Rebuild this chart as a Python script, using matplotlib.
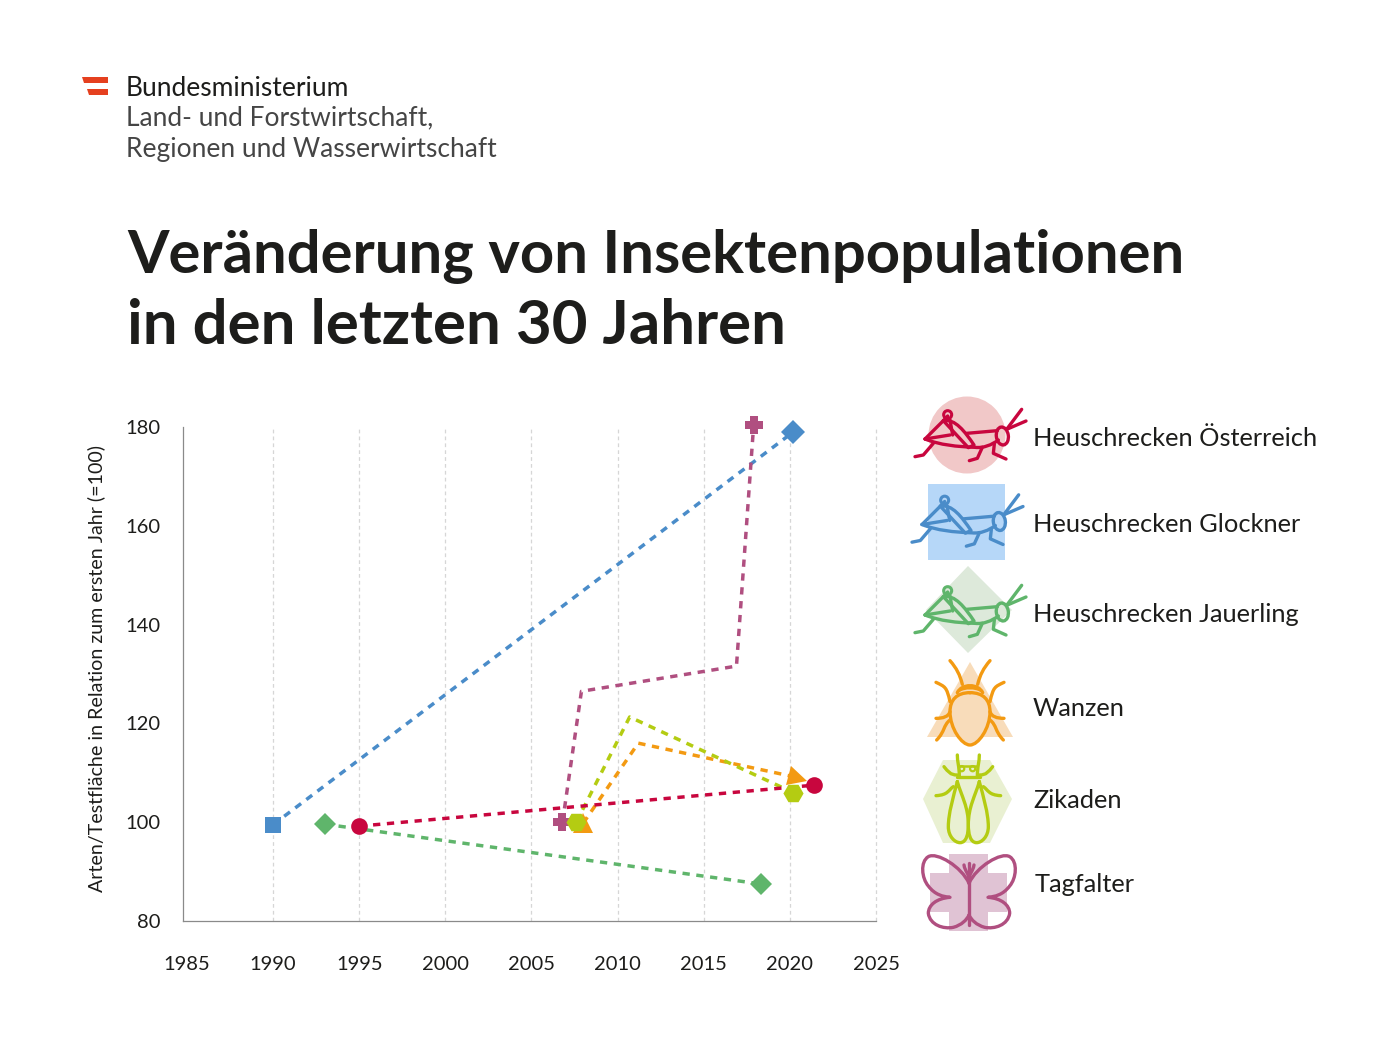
import matplotlib
matplotlib.use("Agg")
import matplotlib.pyplot as plt
from matplotlib.markers import MarkerStyle
from matplotlib.path import Path
from matplotlib.patches import PathPatch, Polygon, Circle, Rectangle, Ellipse
from matplotlib.transforms import Affine2D

plt.rcParams['font.family'] = ['Lato', 'DejaVu Sans']

# ---- data ----
blue_x = [1990.0, 2020.2]
blue_y = [99.5, 179.0]
green_x = [1993.0, 2018.3]
green_y = [99.6, 87.5]
purple_x = [2006.8, 2007.9, 2016.9, 2017.9]
purple_y = [100.0, 126.5, 131.6, 180.5]
orange_x = [2008.0, 2011.2, 2020.5]
orange_y = [99.8, 116.0, 109.0]
lime_x = [2007.6, 2010.7, 2020.2]
lime_y = [100.0, 121.3, 106.0]
red_x = [1995.0, 2021.4]
red_y = [99.2, 107.5]

x_ticks = [1985, 1990, 1995, 2000, 2005, 2010, 2015, 2020, 2025]
y_ticks = [80, 100, 120, 140, 160, 180]

legend_labels = ["Heuschrecken Österreich", "Heuschrecken Glockner", "Heuschrecken Jauerling",
                 "Wanzen", "Zikaden", "Tagfalter"]
title_lines = ["Veränderung von Insektenpopulationen", "in den letzten 30 Jahren"]
ylabel = "Arten/Testfläche in Relation zum ersten Jahr (=100)"

RED, BLUE, GREEN = "#C8063E", "#4A8CC9", "#5FB56B"
ORANGE, LIME, PURPLE = "#F39A12", "#B4CC12", "#B04F80"
TXT = "#1d1d1b"

W, H = 1400, 1050
fig = plt.figure(figsize=(14, 10.5), dpi=100, facecolor="white")
ax = fig.add_axes([183 / W, 1 - 921 / H, (876 - 183) / W, (921 - 427) / H])
ax.set_xlim(1984.77, 2025)
ax.set_ylim(80, 180)
for s in ("top", "right"):
    ax.spines[s].set_visible(False)
for s in ("left", "bottom"):
    ax.spines[s].set_color("#8a8a8a")
    ax.spines[s].set_linewidth(0.9)
ax.set_xticks(x_ticks)
ax.set_yticks(y_ticks)
ax.tick_params(length=0, labelsize=14.5, labelcolor=TXT)
ax.tick_params(axis="x", pad=25)
ax.tick_params(axis="y", pad=16)
ax.grid(axis="x", color="#d6d6d6", lw=0.9, ls=(0, (3, 2.5)))
ax.set_axisbelow(True)
gl = ax.get_xgridlines()
gl[0].set_visible(False)
gl[-1].set_clip_on(False)

def tri(deg):
    return MarkerStyle('^', transform=Affine2D().rotate_deg(deg))

a = 0.42
fat_plus = Path([(-a, -1), (a, -1), (a, -a), (1, -a), (1, a), (a, a), (a, 1), (-a, 1), (-a, a),
                 (-1, a), (-1, -a), (-a, -a), (-a, -1)], closed=True)

def series(x, y, c, m_start, m_end, size, z):
    ax.plot(x, y, color=c, lw=2.5, ls=(0, (2.1, 1.9)), dash_capstyle="butt",
            solid_joinstyle="miter", zorder=z, clip_on=False)
    ax.plot(x[0], y[0], ls="none", marker=m_start, color=c, ms=size, mew=0, zorder=z + 10, clip_on=False)
    ax.plot(x[-1], y[-1], ls="none", marker=m_end, color=c, ms=size, mew=0, zorder=z + 10, clip_on=False)

series(blue_x, blue_y, BLUE, 's', 'D', 12, 3)
series(green_x, green_y, GREEN, 'D', 'D', 11, 3.1)
series(purple_x, purple_y, PURPLE, fat_plus, fat_plus, 12.5, 3.2)
series(orange_x, orange_y, ORANGE, '^', tri(-105), 14, 3.3)
series(lime_x, lime_y, LIME, 'H', 'H', 14.5, 3.4)
series(red_x, red_y, RED, 'o', 'o', 12, 3.5)

# ---- overlay in pixel space: header, legend icons ----
ov = fig.add_axes([0, 0, 1, 1], zorder=-1)
ov.set_xlim(0, W)
ov.set_ylim(H, 0)
ov.axis("off")
ov2 = fig.add_axes([0, 0, 1, 1], zorder=5)
ov2.set_xlim(0, W)
ov2.set_ylim(H, 0)
ov2.axis("off")
ov2.patch.set_alpha(0)

# logo
ov2.add_patch(Polygon([(82, 77), (108, 77), (108, 82.5), (84, 82.5)], color="#E5401F", lw=0))
ov2.add_patch(Polygon([(86.5, 89), (108, 89), (108, 95), (88.5, 95)], color="#E5401F", lw=0))
ov2.text(125.5, 88, "Bundesministerium", fontsize=19, color=TXT, va="center", weight="normal")
ov2.text(125.5, 118, "Land- und Forstwirtschaft,", fontsize=19, color="#454545", va="center")
ov2.text(125.5, 149.5, "Regionen und Wasserwirtschaft", fontsize=19, color="#454545", va="center")

# title
ov2.text(127, 256, title_lines[0], fontsize=43, weight="bold", color=TXT, va="center")
ov2.text(127, 326, title_lines[1], fontsize=44.5, weight="bold", color=TXT, va="center")

# y label
ov2.text(96, 668, ylabel, rotation=90, fontsize=14.1, color=TXT, ha="center", va="center")

# legend labels
for lbl, xx, yy in zip(legend_labels, [1033, 1033, 1033, 1033, 1033, 1035], [438, 524, 615, 708, 800, 885]):
    ov2.text(xx, yy, lbl, fontsize=18.3, color=TXT, va="center")

# backgrounds
ov.add_patch(Circle((967, 435), 38.5, color="#F1C8C8", lw=0))
ov.add_patch(Rectangle((928, 484), 77, 76, color="#B6D7F8", lw=0))
ov.add_patch(Polygon([(968, 566), (1012, 610), (968, 653), (926, 610)], color="#DDE9DA", lw=0))
ov.add_patch(Polygon([(970, 662), (1013, 737), (927, 737)], color="#F8DCBA", lw=0))
ov.add_patch(Polygon([(943, 760), (990, 760), (1012, 799), (990, 843), (943, 843), (923, 799)], color="#E9F0D2", lw=0))
ov.add_patch(Polygon([(949, 854), (988, 854), (988, 873), (1007, 873), (1007, 912), (988, 912), (988, 931),
                      (949, 931), (949, 912), (930, 912), (930, 873), (949, 873)], color="#E0C3D4", lw=0))

def Z(p, ox, oy):
    return (ox + p[0] / 3, oy + p[1] / 3)

def stroke(pts, c, ox, oy, lw=2.4, closed=False, fill="none"):
    """pts: first a start point, then points (line) or triples (cubic) in zoom coordinates."""
    verts, codes = [Z(pts[0], ox, oy)], [Path.MOVETO]
    for p in pts[1:]:
        if len(p) == 3:
            for q in p:
                verts.append(Z(q, ox, oy))
                codes.append(Path.CURVE4)
        else:
            verts.append(Z(p, ox, oy))
            codes.append(Path.LINETO)
    ov2.add_patch(PathPatch(Path(verts, codes), fc=fill, ec=c, lw=lw, capstyle="round", joinstyle="round"))

def hopper(c, ox, oy):
    stroke([(320, 118), (365, 58)], c, ox, oy)
    stroke([(320, 118), (378, 93)], c, ox, oy)
    ov2.add_patch(Ellipse(Z((307, 138), ox, oy), 12, 18, angle=-8, fc="none", ec=c, lw=2.4))
    stroke([(292, 122), (200, 130)], c, ox, oy)
    stroke([(75, 147), ((120, 165), (170, 170), (225, 172)), ((250, 175), (275, 165), (295, 150))], c, ox, oy)
    stroke([(75, 147), (130, 92), (143, 78)], c, ox, oy)
    stroke([(75, 147), (150, 135)], c, ox, oy)
    stroke([(130, 92), ((165, 85), (195, 125), (222, 165)), (205, 173), (130, 92)], c, ox, oy)
    stroke([(150, 90), (158, 135)], c, ox, oy)
    ov2.add_patch(Circle(Z((143, 74), ox, oy), 4, fc="none", ec=c, lw=2.2))
    stroke([(100, 160), (70, 195), (45, 200)], c, ox, oy)
    stroke([(247, 172), (232, 205), (208, 212)], c, ox, oy)
    stroke([(283, 162), (280, 190), (318, 207)], c, ox, oy)

hopper(RED, 900, 390)
hopper(BLUE, 897, 475.5)
hopper(GREEN, 900, 566)

# Wanzen
ox, oy = 900, 650
def mir(pts, axis=210):
    out = []
    for p in pts:
        if isinstance(p[0], tuple):
            out.append(tuple((2 * axis - q[0], q[1]) for q in p))
        else:
            out.append((2 * axis - p[0], p[1]))
    return out

stroke([(210, 128), ((170, 128), (150, 150), (150, 185)), ((150, 235), (185, 285), (210, 285)),
        ((235, 285), (270, 235), (270, 185)), ((270, 150), (250, 128), (210, 128))], ORANGE, ox, oy, fill="#F8DCBA")
stroke([(172, 128), ((185, 100), (235, 100), (248, 128))], ORANGE, ox, oy)
stroke([(178, 122), ((195, 112), (225, 112), (242, 122))], ORANGE, ox, oy, lw=1.8)
for part in [
    [(187, 103), ((180, 75), (170, 55), (150, 32))],
    [(150, 155), ((140, 110), (135, 110), (108, 97))],
    [(150, 185), ((145, 200), (130, 205), (108, 205))],
    [(150, 210), ((130, 225), (135, 245), (110, 270))],
]:
    stroke(part, ORANGE, ox, oy)
    stroke(mir(part), ORANGE, ox, oy)

# Zikaden
wing = [(172, 395), ((160, 440), (145, 490), (145, 530)), ((145, 560), (165, 578), (180, 578)),
        ((200, 578), (205, 550), (205, 525)), ((205, 470), (185, 440), (172, 395))]
stroke(wing, LIME, ox, oy, lw=2.4)
stroke(mir(wing, 205), LIME, ox, oy, lw=2.4)
stroke([(170, 380), (240, 380)], LIME, ox, oy)
stroke([(178, 347), (232, 347)], LIME, ox, oy, lw=1.8)
for part in [
    [(172, 315), ((172, 335), (178, 350), (178, 380))],
    [(172, 375), ((150, 375), (145, 365), (132, 350))],
    [(160, 410), ((145, 420), (145, 435), (108, 437))],
]:
    stroke(part, LIME, ox, oy)
    stroke(mir(part, 205), LIME, ox, oy)
for cx in (185, 218):
    ov2.add_patch(Circle(Z((cx, 356), ox, oy), 2.6, fc="none", ec=LIME, lw=1.6))

# Tagfalter
left_wing = [(207, 700), ((185, 650), (110, 605), (85, 620)), ((60, 635), (65, 685), (85, 708)),
             ((105, 735), (130, 740), (150, 742)), ((110, 745), (85, 765), (85, 790)),
             ((90, 825), (130, 838), (160, 832)), ((185, 825), (200, 810), (207, 795))]
stroke(left_wing, PURPLE, ox, oy)
stroke(mir(left_wing, 207), PURPLE, ox, oy)
stroke([(207, 680), (207, 825)], PURPLE, ox, oy)
stroke([(207, 640), (207, 680)], PURPLE, ox, oy)
stroke([(192, 645), ((195, 665), (207, 670), (207, 690))], PURPLE, ox, oy)
stroke([(222, 645), ((219, 665), (207, 670), (207, 690))], PURPLE, ox, oy)

fig.savefig("out.png", dpi=100, facecolor="white")
